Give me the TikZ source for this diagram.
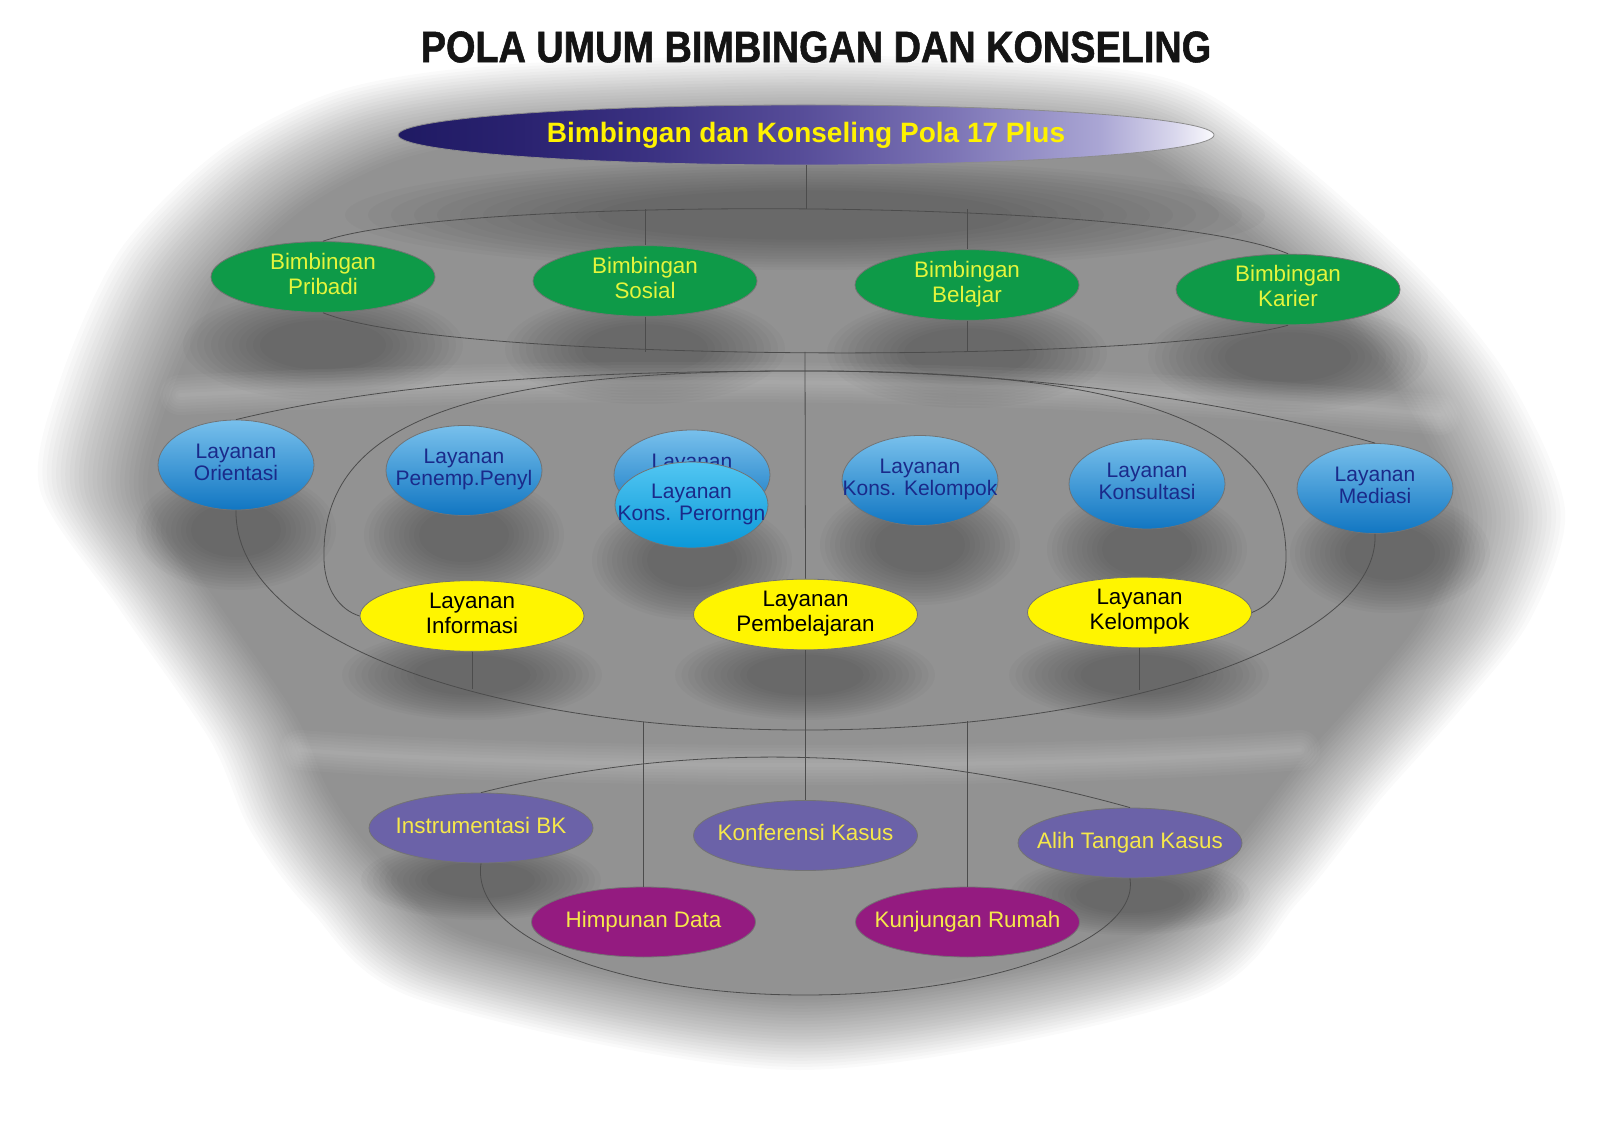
\documentclass[tikz,border=0pt]{standalone}
\usepackage{fontspec}
\setmainfont{Liberation Sans}
\newfontfamily\titlefont[FakeStretch=0.86,FakeBold=1.2]{Liberation Sans}
\usepackage{tikz}
\usetikzlibrary{shapes.geometric}
\definecolor{bkgreen}{HTML}{0E9A48}
\definecolor{bkgreentext}{HTML}{E4F53C}
\definecolor{bkblueA}{HTML}{78C0EC}
\definecolor{bkblueB}{HTML}{1176C2}
\definecolor{bkcyanA}{HTML}{52C6F2}
\definecolor{bkcyanB}{HTML}{0A98D8}
\definecolor{bknavy}{HTML}{1A2A8A}
\definecolor{bkyellow}{HTML}{FFF500}
\definecolor{bkpurple}{HTML}{6B62A8}
\definecolor{bkmagenta}{HTML}{941B80}
\definecolor{bkgold}{HTML}{F6E84A}
\definecolor{polaA}{HTML}{1F1A63}
\definecolor{polaB}{HTML}{2A2270}
\definecolor{polaC}{HTML}{3B3282}
\definecolor{polaD}{HTML}{564C98}
\definecolor{polaE}{HTML}{7A72B4}
\definecolor{polaF}{HTML}{AAA6D4}
\definecolor{polaG}{HTML}{D8D6EC}
\definecolor{polaH}{HTML}{FAFAFD}
\pgfdeclarehorizontalshading{polashade}{100bp}{color(0bp)=(polaA); color(25bp)=(polaA); color(32.5bp)=(polaB); color(40.5bp)=(polaC); color(49.5bp)=(polaD); color(58.5bp)=(polaE); color(68bp)=(polaF); color(72.5bp)=(polaG); color(75bp)=(polaH); color(100bp)=(polaH)}
\newcommand{\ovaltext}[1]{\makebox[0pt]{\begin{tabular}{@{}c@{}}#1\end{tabular}}}

\begin{document}
\begin{tikzpicture}[x=5pt,y=5pt]
\tikzstyle{every node}+=[inner sep=0pt]
\tikzstyle{fog}=[black, opacity=0.018]
\tikzstyle{glint}=[white, opacity=0.035, line cap=round]
\tikzstyle{link}=[black!70, line width=0.4pt]
\tikzstyle{bimb}=[ellipse, draw=black!55, fill=bkgreen, text=bkgreentext, minimum width=112pt, minimum height=34pt, font=\fontsize{11.2}{12.5}\selectfont]
\tikzstyle{lay}=[ellipse, draw=black!55, top color=bkblueA, bottom color=bkblueB, text=bknavy, minimum width=78pt, minimum height=45pt, font=\fontsize{10.5}{11}\selectfont]
\tikzstyle{layk}=[ellipse, draw=black!55, fill=bkyellow, text=black, minimum width=112pt, minimum height=34.5pt, font=\fontsize{11.2}{12.5}\selectfont]
\tikzstyle{pend}=[ellipse, draw=black!55, fill=bkpurple, text=bkgold, minimum width=112pt, minimum height=35pt, font=\fontsize{11.2}{12.5}\selectfont]
\tikzstyle{kegiatan}=[pend, fill=bkmagenta]
\fill [white] (0,0) rectangle (160,-112.7);
\useasboundingbox (0,0) rectangle (160,-112.7);
\foreach \s in {1.0,0.994,...,0.855}
  \fill [fog, scale around={\s:(80,-56)}] plot [smooth cycle] coordinates {(80,-5.5) (50,-6.5) (34,-9) (22,-15) (12,-25) (6,-38) (4,-49) (12,-61) (21,-74) (25,-83) (31,-91) (42,-100) (80,-107) (119,-100) (130,-90) (138,-80) (146,-71) (153,-62) (156.5,-51) (151,-38) (143,-28) (131,-17) (120,-9) (108,-6.5)};
\foreach \x/\y/\a/\b in {80.5/-21.5/46/5.5, 32.3/-34.5/14/5.5, 64.5/-34.9/14/5.5, 96.7/-35.3/14/5.5, 128.8/-35.7/14/5.5, 23.6/-53/10/6, 46.4/-53.5/10/6, 69.2/-56/10/6, 92/-54.5/10/6, 114.7/-54.9/10/6, 139/-55.3/10/6, 47.2/-67.5/13/4.5, 80.5/-67.5/13/4.5, 113.9/-67.5/13/4.5, 48.1/-88/12/4, 113/-89.5/12/4}
  \foreach \k in {0,...,11}
    \fill [fog, opacity=0.024] (\x,\y) ellipse [x radius={\a*(1-0.05*\k)}, y radius={\b*(1-0.05*\k)}];
\foreach \w in {20,17,...,2}
  \draw [glint, line width=\w pt] (18,-39.5) .. controls (60,-37.5) and (100,-37.5) .. (144,-41.5);
\foreach \w in {20,17,...,2}
  \draw [glint, line width=\w pt] (30,-75) .. controls (55,-77) and (105,-77) .. (130,-75);

\node [font=\titlefont\bfseries\fontsize{22}{24}\selectfont, text=black!92] (title) at (81.6,-4.7) {POLA UMUM BIMBINGAN DAN KONSELING};
\node [ellipse, draw=black!45, shading=polashade, minimum width=408pt, minimum height=30pt, text=yellow, font=\bfseries\fontsize{14}{16}\selectfont] (pola) at (80.6,-13.5) {Bimbingan dan Konseling Pola 17 Plus};

\node [bimb] (pribadi) at (32.3,-27.7) {\ovaltext{Bimbingan\\Pribadi}};
\node [bimb] (sosial) at (64.5,-28.1) {\ovaltext{Bimbingan\\Sosial}};
\node [bimb] (belajar) at (96.7,-28.5) {\ovaltext{Bimbingan\\Belajar}};
\node [bimb] (karier) at (128.8,-28.95) {\ovaltext{Bimbingan\\Karier}};

\node [lay] (orientasi) at (23.6,-46.5) {\ovaltext{Layanan\\Orientasi}};
\node [lay] (penempatan) at (46.4,-47.05) {\ovaltext{Layanan\\Penemp.Penyl}};
\node [lay] (konten) at (69.2,-47.5) {\ovaltext{Layanan\\\phantom{Peng. Konten}}};
\node [lay, top color=bkcyanA, bottom color=bkcyanB, minimum width=76.5pt, minimum height=43pt] (perorangan) at (69.15,-50.5) {\ovaltext{Layanan\\Kons. Perorngn}};
\node [lay] (konskelompok) at (92.0,-48.05) {\ovaltext{Layanan\\Kons. Kelompok}};
\node [lay] (konsultasi) at (114.7,-48.4) {\ovaltext{Layanan\\Konsultasi}};
\node [lay] (mediasi) at (137.5,-48.85) {\ovaltext{Layanan\\Mediasi}};

\node [layk] (informasi) at (47.2,-61.6) {\ovaltext{Layanan\\Informasi}};
\node [layk] (pembelajaran) at (80.55,-61.45) {\ovaltext{Layanan\\Pembelajaran}};
\node [layk] (kelompok) at (113.95,-61.25) {\ovaltext{Layanan\\Kelompok}};

\node [pend] (instrumentasi) at (48.1,-82.8) {\ovaltext{Instrumentasi BK}};
\node [pend] (konferensi) at (80.55,-83.55) {\ovaltext{Konferensi Kasus}};
\node [pend] (alih) at (113.0,-84.3) {\ovaltext{Alih Tangan Kasus}};
\node [kegiatan] (himpunan) at (64.35,-92.2) {\ovaltext{Himpunan Data}};
\node [kegiatan] (kunjungan) at (96.75,-92.2) {\ovaltext{Kunjungan Rumah}};

\coordinate (j1) at (80.5,-20.9);
\coordinate (j2) at (80.5,-35.2);
\coordinate (j3) at (80.5,-37.1);
\coordinate (j4) at (80.5,-73.0);
\coordinate (j6) at (80.5,-99.5);
\coordinate (bl) at (46.6,-68.9);
\coordinate (br) at (114.6,-69.0);
\coordinate (hl) at (64.2,-72.2);
\coordinate (hr) at (96.8,-72.1);

\draw [link] (pola.south) -- (pola.south |- j1);
\draw [link] (pribadi.north) .. controls (45,-19.6) and (115,-19.6) .. (karier.north);
\draw [link] (pribadi.south) .. controls (45,-36.4) and (115,-36.4) .. (karier.south);
\draw [link] (sosial.north) -- (sosial.north |- j1);
\draw [link] (belajar.north) -- (belajar.north |- j1);
\draw [link] (sosial.south) -- (sosial.south |- j2);
\draw [link] (belajar.south) -- (belajar.south |- j2);
\draw [link] (j2) -- (pembelajaran.north);
\draw [link] (orientasi.north) .. controls (40,-38) and (60,-37.1) .. (j3) .. controls (100,-37.1) and (121,-39.5) .. (mediasi.north);
\draw [link] (orientasi.south) .. controls (23.4,-63.7) and (48,-73) .. (j4) .. controls (113,-73) and (138,-64) .. (mediasi.south);
\draw [link] (j3) .. controls (45,-37) and (32,-43) .. (32.4,-56) .. controls (32.5,-59) and (34,-61) .. (informasi.west);
\draw [link] (j3) .. controls (115,-37) and (128.8,-43) .. (128.6,-56) .. controls (128.5,-59) and (127,-60.5) .. (kelompok.east);
\draw [link] (informasi.south) -- (informasi.south |- bl);
\draw [link] (kelompok.south) -- (kelompok.south |- br);
\draw [link] (pembelajaran.south) -- (konferensi.north);
\draw [link] (himpunan.north |- hl) -- (himpunan.north);
\draw [link] (kunjungan.north |- hr) -- (kunjungan.north);
\draw [link] (instrumentasi.north) .. controls (68,-74.3) and (90,-74.3) .. (alih.north);
\draw [link] (instrumentasi.south) .. controls (47,-93.7) and (61.6,-99.5) .. (j6) .. controls (99.2,-99.5) and (114,-94) .. (alih.south);
\end{tikzpicture}
\end{document}
